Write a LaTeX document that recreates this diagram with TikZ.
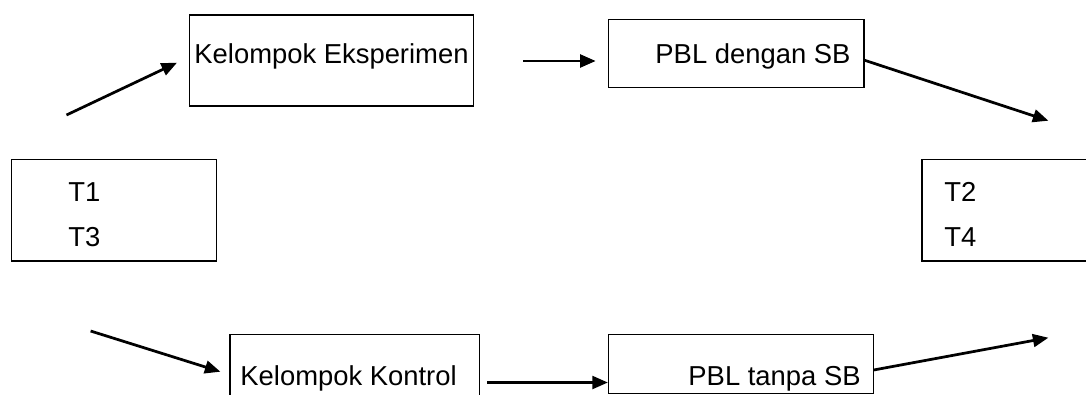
\documentclass[tikz,border=0pt]{standalone}
\usepackage{fontspec}
\setmainfont{Liberation Sans}
\usetikzlibrary{fit,arrows.meta}

\begin{document}
\begin{tikzpicture}[x=0.438pt, y=-0.438pt,
font=\fontsize{12}{14}\selectfont,
box/.style={draw, line width=0.65pt, inner sep=0pt, rectangle},
txt/.style={inner sep=0pt, anchor=base west},
link/.style={line width=1.2pt, -{Triangle[length=6.8pt, width=5.6pt]}}]
\clip (0,0) rectangle (1086,394);
\fill[white] (0,0) rectangle (1086,394);

\node[box, fit={(11.4,159.3) (216.3,261)}] (pre) {};
\node[txt] (t1) at (68,201) {T1};
\node[txt] (t3) at (68,246.5) {T3};

\node[box, fit={(189.4,15) (473.5,106)}] (eksp) {};
\node[txt] (eksptext) at (194,63.3) {Kelompok Eksperimen};

\node[box, fit={(608.6,19.3) (863.8,87.7)}] (pbls) {};
\node[txt] (pblstext) at (655,63.3) {PBL dengan SB};

\node[box, fit={(230,334.3) (479.7,400)}] (kont) {};
\node[txt] (konttext) at (240,385) {Kelompok Kontrol};

\node[box, fit={(608.6,334.3) (873.6,393.3)}] (pblt) {};
\node[txt] (pblttext) at (688,385) {PBL tanpa SB};

\node[box, fit={(922,159.3) (1095,261)}] (post) {};
\node[txt] (t2) at (944,201) {T2};
\node[txt] (t4) at (944,246.5) {T4};

\coordinate (a1) at (66.5,115);
\coordinate (b1) at (177,62.7);
\coordinate (a2) at (523.4,61);
\coordinate (b2) at (595.7,61);
\coordinate (a3) at (863.8,60);
\coordinate (b3) at (1048.4,120.7);
\coordinate (a4) at (90.6,331);
\coordinate (b4) at (220.4,371.7);
\coordinate (a5) at (487.3,382.5);
\coordinate (b5) at (607.9,382.5);
\coordinate (a6) at (873.6,370);
\coordinate (b6) at (1048.4,337.7);

\draw[link] (a1) -- (b1);
\draw[link] (a2) -- (b2);
\draw[link] (a3) -- (b3);
\draw[link] (a4) -- (b4);
\draw[link] (a5) -- (b5);
\draw[link] (a6) -- (b6);
\end{tikzpicture}
\end{document}
